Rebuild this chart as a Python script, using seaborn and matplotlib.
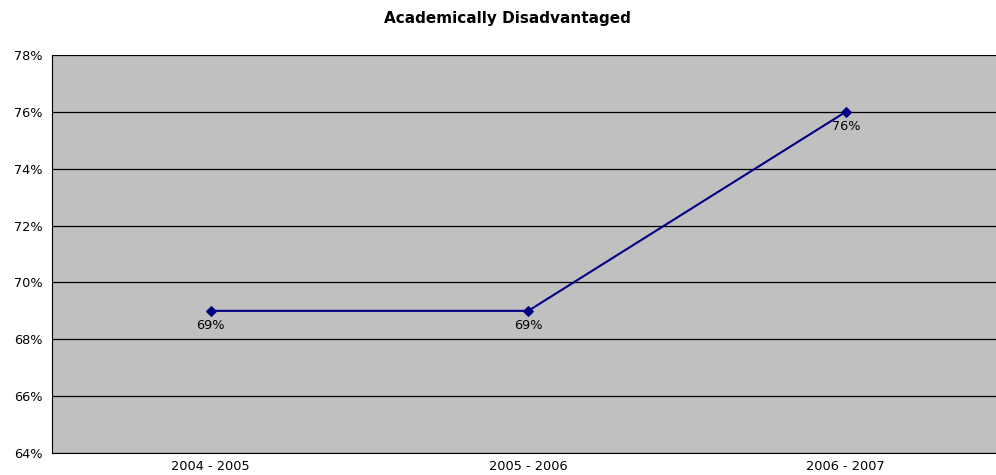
import pandas as pd
import matplotlib.pyplot as plt
import seaborn as sns

# chart data
years = ['2004 - 2005', '2005 - 2006', '2006 - 2007']
pct = [69, 69, 76]
point_labels = ['69%', '69%', '76%']
y_ticks = [64, 66, 68, 70, 72, 74, 76, 78]

df = pd.DataFrame({'Year': years, 'Value': pct})
df['x'] = range(len(years))

sns.set_style('white')
plt.rcParams['font.family'] = ['DejaVu Sans']
plt.rcParams['text.color'] = 'black'
plt.rcParams['xtick.color'] = 'black'
plt.rcParams['ytick.color'] = 'black'

fig = plt.figure(figsize=(9.96, 4.75), dpi=100)
ax = fig.add_axes([52 / 996, 22 / 475, 952.5 / 996, 398 / 475])
ax.set_facecolor('#C0C0C0')

sns.lineplot(data=df, x='x', y='Value', ax=ax, color='#000080', linewidth=1.5,
             marker='D', markersize=5, markeredgecolor='#000080')

for xi, v, lab in zip(df['x'], df['Value'], point_labels):
    ax.annotate(lab, (xi, v), xytext=(0, -15), textcoords='offset points',
                ha='center', va='bottom', fontsize=9.3)

ax.set_xlim(-0.5, len(years) - 0.5)
ax.set_ylim(64, 78)
ax.set_yticks(y_ticks)
ax.set_yticklabels([f'{t}%' for t in y_ticks], fontsize=9.3)
ax.yaxis.grid(True, color='black', linewidth=0.9)
ax.set_axisbelow(True)

ax.set_xticks([0.5, 1.5])
ax.set_xticklabels([])
ax.set_xticks(df['x'], minor=True)
ax.set_xticklabels(years, minor=True, fontsize=9.3)
ax.tick_params(axis='x', which='major', length=4, direction='out', color='black')
ax.tick_params(axis='x', which='minor', length=0, pad=5)
ax.tick_params(axis='y', length=4, direction='out', color='black', pad=3)

ax.set_xlabel('')
ax.set_ylabel('')
for side in ['top', 'right']:
    ax.spines[side].set_visible(False)
ax.spines['left'].set_color('black')
ax.spines['bottom'].set_color('black')

fig.text(507 / 996, 1 - 18 / 475, 'Academically Disadvantaged', ha='center', va='center',
         fontsize=11, fontweight='bold')

fig.savefig('out.png', dpi=100)
